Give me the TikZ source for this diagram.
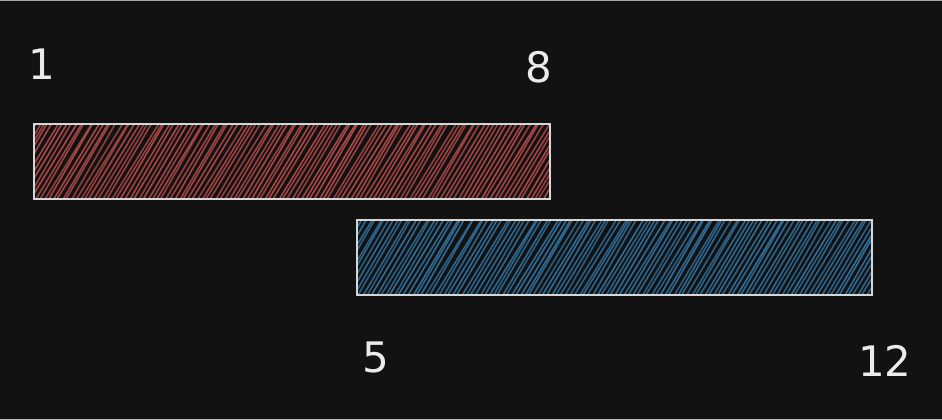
\documentclass[tikz,border=0pt]{standalone}
\usepackage{fontspec}
\setmainfont{DejaVu Sans}
\definecolor{bg}{HTML}{121212}
\definecolor{hred}{HTML}{B04848}
\definecolor{hblue}{HTML}{2E6F9C}
\definecolor{edge}{HTML}{D6D6D6}
\tikzset{
  num/.style={text=white!92!black, font=\fontsize{42}{42}\selectfont, inner sep=0pt},
  bar/.style={draw=edge, line width=2pt, minimum height=75pt, inner sep=0pt, anchor=north west},
  hatchline/.style={line width=1.6pt, line cap=round}
}
\begin{document}
\begin{tikzpicture}[x=1pt,y=-1pt]
\fill[bg] (0,0) rectangle (942,420);
\useasboundingbox (0,0) rectangle (942,420);
\draw[gray!70, line width=1.2pt] (0,0.6) -- (942,0.6);
\draw[gray!50, line width=1pt] (0,419.5) -- (942,419.5);
\pgfmathsetseed{7}
% red bar
\node[bar, minimum width=516pt] (r1) at (33,123) {};
\begin{scope}
\clip (r1.south west) rectangle (r1.north east);
\foreach \i in {0,...,125}{
  \pgfmathsetmacro{\xa}{33+\i*4.5-48+2*rnd}
  \pgfmathsetmacro{\xb}{\xa+44+4*rnd}
  \draw[hatchline, hred, opacity=0.8+0.2*rnd] (\xa,199) -- (\xb,122);
}
\end{scope}
\node[bar, minimum width=516pt] at (33,123) {};
% blue bar
\node[bar, minimum width=515pt] (r2) at (356,219) {};
\begin{scope}
\clip (r2.south west) rectangle (r2.north east);
\foreach \i in {0,...,125}{
  \pgfmathsetmacro{\xa}{356+\i*4.5-48+2*rnd}
  \pgfmathsetmacro{\xb}{\xa+44+4*rnd}
  \draw[hatchline, hblue, opacity=0.8+0.2*rnd] (\xa,295) -- (\xb,218);
}
\end{scope}
\node[bar, minimum width=515pt] at (356,219) {};
% labels
\node[num, anchor=base west] (t1) at (28,80) {1};
\node[num, anchor=base west] (t8) at (525,82) {8};
\node[num, anchor=base west] (t5) at (362,372) {5};
\node[num, anchor=base west] (t12) at (858,376) {12};
\end{tikzpicture}
\end{document}
